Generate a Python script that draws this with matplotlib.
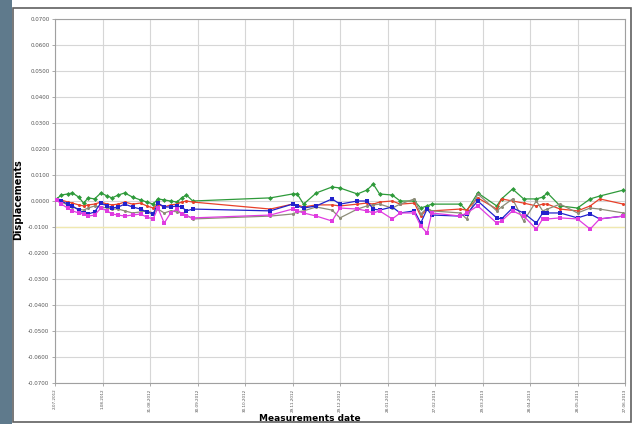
import matplotlib
matplotlib.use("Agg")
import matplotlib.pyplot as plt
from matplotlib.patches import Rectangle
import datetime as dt

start = dt.date(2012, 7, 2)
day_offsets = [1, 4, 8, 11, 15, 18, 21, 25, 29, 33, 36, 40, 44, 49, 54, 58, 62, 65, 69, 73,
               77, 80, 83, 87, 136, 150, 153, 157, 165, 175, 180, 191, 197, 201, 205, 213,
               218, 227, 231, 235, 238, 256, 260, 267, 279, 282, 289, 296, 304, 308, 311,
               319, 330, 338, 344, 359]

green = [0.0008, 0.0023, 0.0027, 0.0031, 0.0015, -0.0008, 0.0012, 0.0008, 0.0031, 0.0019,
         0.0012, 0.0023, 0.0031, 0.0015, 0.0004, -0.0004, -0.0012, 0.0008, 0.0004, 0.0000,
         -0.0004, 0.0012, 0.0023, 0.0000, 0.0012, 0.0027, 0.0027, -0.0012, 0.0031, 0.0054,
         0.0050, 0.0027, 0.0042, 0.0065, 0.0027, 0.0023, 0.0000, 0.0000, -0.0027, -0.0019,
         -0.0012, -0.0012, -0.0038, 0.0031, -0.0019, 0.0008, 0.0046, 0.0008, 0.0008, 0.0015,
         0.0031, -0.0019, -0.0027, 0.0008, 0.0019, 0.0042]

red = [0.0004, 0.0004, -0.0004, -0.0008, -0.0015, -0.0019, -0.0015, -0.0012, -0.0004, -0.0012,
       -0.0015, -0.0012, -0.0004, -0.0012, -0.0008, -0.0019, -0.0027, -0.0012, -0.0023, -0.0015,
       -0.0012, -0.0004, 0.0000, -0.0004, -0.0031, -0.0012, -0.0015, -0.0023, -0.0015, -0.0015,
       -0.0019, -0.0012, -0.0008, -0.0012, -0.0004, 0.0000, -0.0012, -0.0008, -0.0058, -0.0031,
       -0.0038, -0.0031, -0.0035, 0.0012, -0.0031, 0.0008, 0.0000, -0.0008, -0.0019, -0.0012,
       -0.0012, -0.0031, -0.0038, -0.0019, 0.0008, -0.0012]

grey = [0.0004, -0.0004, -0.0015, -0.0023, -0.0031, -0.0035, -0.0027, -0.0019, -0.0023, -0.0027,
        -0.0031, -0.0031, -0.0038, -0.0046, -0.0042, -0.0038, -0.0046, -0.0031, -0.0046, -0.0038,
        -0.0042, -0.0046, -0.0054, -0.0069, -0.0058, -0.0050, -0.0042, -0.0038, -0.0023, -0.0035,
        -0.0065, -0.0031, -0.0019, -0.0015, -0.0012, -0.0027, -0.0012, 0.0008, -0.0050, -0.0027,
        -0.0038, -0.0046, -0.0069, 0.0027, -0.0038, -0.0023, 0.0008, -0.0077, 0.0000, -0.0038,
        -0.0031, -0.0012, -0.0046, -0.0027, -0.0031, -0.0046]

blue = [0.0004, 0.0000, -0.0012, -0.0019, -0.0035, -0.0046, -0.0050, -0.0042, -0.0008, -0.0019,
        -0.0027, -0.0023, -0.0012, -0.0023, -0.0031, -0.0042, -0.0050, -0.0008, -0.0023, -0.0023,
        -0.0019, -0.0023, -0.0038, -0.0031, -0.0038, -0.0012, -0.0019, -0.0027, -0.0019, 0.0008,
        -0.0012, 0.0000, 0.0000, -0.0031, -0.0035, -0.0023, -0.0046, -0.0038, -0.0085, -0.0031,
        -0.0054, -0.0058, -0.0050, 0.0000, -0.0065, -0.0069, -0.0027, -0.0046, -0.0085, -0.0046,
        -0.0046, -0.0046, -0.0065, -0.0050, -0.0069, -0.0058]

magenta = [0.0004, -0.0012, -0.0027, -0.0038, -0.0046, -0.0050, -0.0058, -0.0054, -0.0027, -0.0038,
           -0.0050, -0.0054, -0.0058, -0.0054, -0.0050, -0.0062, -0.0069, -0.0027, -0.0085, -0.0046,
           -0.0031, -0.0050, -0.0058, -0.0065, -0.0054, -0.0031, -0.0038, -0.0046, -0.0058, -0.0077,
           -0.0027, -0.0031, -0.0038, -0.0046, -0.0038, -0.0069, -0.0046, -0.0046, -0.0096, -0.0123,
           -0.0046, -0.0058, -0.0046, -0.0019, -0.0085, -0.0077, -0.0038, -0.0058, -0.0108, -0.0069,
           -0.0069, -0.0065, -0.0069, -0.0108, -0.0069, -0.0058]

y_ticks = [0.07, 0.06, 0.05, 0.04, 0.03, 0.02, 0.01, 0.0, -0.01, -0.02, -0.03, -0.04, -0.05, -0.06, -0.07]
tick_day_offsets = [0, 30, 60, 90, 120, 150, 180, 210, 240, 270, 300, 330, 360]

dates = [start + dt.timedelta(days=d) for d in day_offsets]
tick_dates = [start + dt.timedelta(days=d) for d in tick_day_offsets]

fig = plt.figure(figsize=(6.33, 4.24), dpi=100, facecolor="white")

# background frame decorations
fig.patches.append(Rectangle((0, 0), 12 / 633, 1, transform=fig.transFigure,
                             facecolor="#5f7a8c", edgecolor="none", zorder=0))
fig.patches.append(Rectangle((13 / 633, 2 / 424), 618 / 633, 414 / 424, transform=fig.transFigure,
                             facecolor="white", edgecolor="#606060", linewidth=1.2, zorder=1))

ax = fig.add_axes([55 / 633, 1 - 383 / 424, 570 / 633, 364 / 424])
ax.set_zorder(2)
ax.set_facecolor("white")

ax.axhline(-0.01, color="#f0e8b0", linewidth=1.0, zorder=1)

series = [
    (green, "#2e9a3a", "D", 2.5),
    (red, "#e8402a", "o", 2.2),
    (grey, "#8c8c78", "o", 2.2),
    (blue, "#2222cc", "s", 3.5),
    (magenta, "#e03ce0", "s", 3.2),
]
for vals, col, mk, ms in series:
    ax.plot(dates, vals, color=col, linewidth=0.9, marker=mk, markersize=ms,
            markeredgewidth=0, zorder=3)

ax.set_ylim(-0.07, 0.07)
ax.set_xlim(tick_dates[0], tick_dates[-1])
ax.set_yticks(y_ticks)
ax.set_yticklabels([f"{v:.4f}" for v in y_ticks], fontsize=4.0, color="#555555")
ax.set_xticks(tick_dates)
ax.set_xticklabels([d.strftime("%d.%m.%Y").lstrip("0") for d in tick_dates],
                   rotation=90, fontsize=3.0, color="#555555")
ax.tick_params(axis="both", length=2, width=0.5, color="#888888", pad=2)
ax.grid(True, color="#d6d6d6", linewidth=0.8)
ax.set_axisbelow(True)
for s in ax.spines.values():
    s.set_color("#a0a0a0")
    s.set_linewidth(0.8)

fig.text(18 / 633, 1 - 200 / 424, "Displacements", rotation=90, fontsize=7,
         fontweight="bold", ha="center", va="center")
fig.text(310 / 633, 1 - 418.5 / 424, "Measurements date", fontsize=6.5,
         fontweight="bold", ha="center", va="center")

fig.savefig("out.png", dpi=100, facecolor=fig.get_facecolor())
